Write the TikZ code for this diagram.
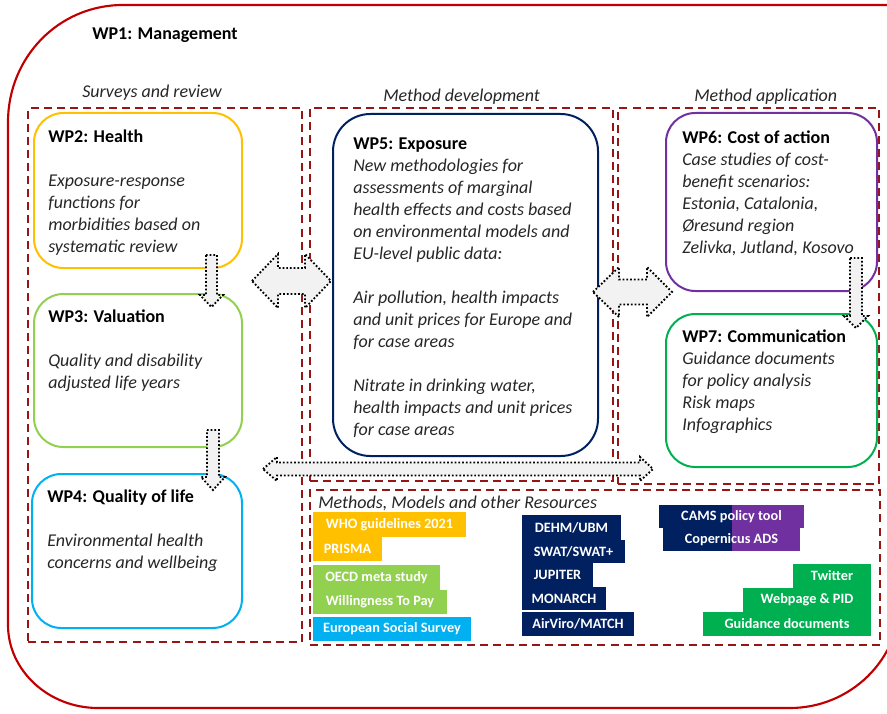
\documentclass[tikz,border=0pt]{standalone}
\usepackage{fontspec}
\setmainfont{Carlito}
\usetikzlibrary{fit}

\definecolor{outerred}{RGB}{192,0,0}
\definecolor{dashred}{RGB}{150,22,22}
\definecolor{wpyellow}{RGB}{255,192,0}
\definecolor{wpgreen}{RGB}{146,208,80}
\definecolor{wpblue}{RGB}{0,176,240}
\definecolor{wpnavy}{RGB}{0,32,96}
\definecolor{wppurple}{RGB}{112,48,160}
\definecolor{wpdkgreen}{RGB}{0,176,80}
\definecolor{arrowfill}{RGB}{242,242,242}
\definecolor{txt}{RGB}{38,38,38}

\tikzset{
  outerframe/.style={draw=outerred, line width=1.6pt},
  dashbox/.style={draw=dashred, line width=2pt, dash pattern=on 6pt off 3.8pt, inner sep=0pt},
  wpbox/.style={line width=1.5pt, rounded corners=22pt, inner sep=0pt},
  body/.style={anchor=north west, inner sep=0pt, align=left,
    font=\fontsize{13.5}{16.5}\selectfont\itshape, text=txt},
  heading/.style={anchor=base west, inner sep=0pt,
    font=\fontsize{13.5}{16.5}\selectfont\bfseries, text=black},
  section/.style={anchor=base west, inner sep=0pt,
    font=\fontsize{13.5}{16.5}\selectfont\itshape, text=txt},
  resbox/.style={inner sep=0pt},
  restext/.style={inner sep=0pt, text=white,
    font=\fontsize{10.7}{12}\selectfont\bfseries},
  blockarrow/.style={draw=black, fill=arrowfill, line width=1.4pt,
    dash pattern=on 1.3pt off 1.5pt}
}

\newcommand{\hd}[1]{\strut{\upshape\bfseries\color{black}#1}}

\begin{document}
\begin{tikzpicture}[x=0.75pt,y=-0.75pt]
\useasboundingbox (0,0) rectangle (887,713);

% project frame
\draw[outerframe] (8,625) -- (8,122)
  .. controls (8,58) and (58,5) .. (123,5) -- (900,5) -- (900,600)
  .. controls (900,660) and (850,708) .. (790,708) -- (98,708)
  .. controls (48,708) and (8,670) .. (8,625) -- cycle;
\node[heading] (wp1) at (92,40) {WP1: Management};

% work-stream groups
\node[dashbox, fit={(28,108) (302,642)}] (surveys) {};
\node[dashbox, fit={(310,108) (613,481)}] (devel) {};
\node[dashbox, fit={(618,108) (879,484)}] (appl) {};
\node[dashbox, fit={(310,490) (880,645)}] (resources) {};

\node[section] (surveyslbl) at (82,98) {Surveys and review};
\node[section] (devellbl) at (383,102) {Method development};
\node[section] (appllbl) at (694,102) {Method application};
\node[section] (reslbl) at (318,508) {Methods, Models and other Resources};

% work packages
\node[wpbox, draw=wpyellow, fit={(34,113) (242,268)}] (wp2) {};
\node[wpbox, draw=wpgreen, fit={(34,294) (242,447)}] (wp3) {};
\node[wpbox, draw=wpblue, fit={(32,474) (242,628)}] (wp4) {};
\node[wpbox, draw=wpnavy, rounded corners=28pt, fit={(333,114) (598,456)}] (wp5) {};
\node[wpbox, draw=wppurple, fit={(666,113) (877,291)}] (wp6) {};
\node[wpbox, draw=wpdkgreen, fit={(666,314) (877,467)}] (wp7) {};

\node[body] (wp2txt) at (48,126.6) {\hd{WP2: Health}\\[16.5pt]
  Exposure-response\\ functions for\\ morbidities based on\\ systematic review};
\node[body] (wp3txt) at (48,306.6) {\hd{WP3: Valuation}\\[16.5pt]
  Quality and disability\\ adjusted life years};
\node[body] (wp4txt) at (47,486.6) {\hd{WP4: Quality of life}\\[16.5pt]
  Environmental health\\ concerns and wellbeing};
\node[body] (wp5txt) at (353,133.6) {\hd{WP5: Exposure}\\
  New methodologies for\\ assessments of marginal\\
  health effects and costs based\\ on environmental models and\\
  EU-level public data:\\[16.5pt]
  Air pollution, health impacts\\ and unit prices for Europe and\\
  for case areas\\[16.5pt]
  Nitrate in drinking water,\\ health impacts and unit prices\\ for case areas};
\node[body] (wp6txt) at (682,127.6) {\hd{WP6: Cost of action}\\
  Case studies of cost-\\ benefit scenarios:\\ Estonia, Catalonia,\\
  Øresund region\\ Zelivka, Jutland, Kosovo};
\node[body] (wp7txt) at (682,326.6) {\hd{WP7: Communication}\\
  Guidance documents\\ for policy analysis\\ Risk maps\\ Infographics};

% resources
\node[resbox, fill=wpyellow, fit={(313,512) (466,537)},
  label={[restext]center:WHO guidelines 2021}] (who) {};
\node[resbox, fill=wpyellow, fit={(313,537) (382,561)},
  label={[restext]center:PRISMA}] (prisma) {};
\node[resbox, fill=wpgreen, fit={(313,565) (440,590)},
  label={[restext]center:OECD meta study}] (oecd) {};
\node[resbox, fill=wpgreen, fit={(313,590) (447,614)},
  label={[restext]center:Willingness To Pay}] (wtp) {};
\node[resbox, fill=wpblue, fit={(313,617) (471,641)},
  label={[restext]center:European Social Survey}] (ess) {};

\node[resbox, fill=wpnavy, fit={(522,515) (621,540)},
  label={[restext]center:DEHM/UBM}] (dehm) {};
\node[resbox, fill=wpnavy, fit={(522,540) (625,563)},
  label={[restext]center:SWAT/SWAT+}] (swat) {};
\node[resbox, fill=wpnavy, fit={(522,563) (593,587)},
  label={[restext]center:JUPITER}] (jupiter) {};
\node[resbox, fill=wpnavy, fit={(522,587) (606,610)},
  label={[restext]center:MONARCH}] (monarch) {};
\node[resbox, fill=wpnavy, fit={(522,612) (634,636)},
  label={[restext]center:AirViro/MATCH}] (airviro) {};

\node[resbox, fill=wpnavy, fit={(659,505) (804,528)},
  path picture={\fill[wppurple] (path picture bounding box.north) rectangle (path picture bounding box.south east);},
  label={[restext]center:CAMS policy tool}] (cams) {};
\node[resbox, fill=wpnavy, fit={(663,528) (800,551)},
  path picture={\fill[wppurple] (path picture bounding box.north) rectangle (path picture bounding box.south east);},
  label={[restext]center:Copernicus ADS}] (ads) {};

\node[resbox, fill=wpdkgreen, fit={(793,564) (871,588)},
  label={[restext]center:Twitter}] (twitter) {};
\node[resbox, fill=wpdkgreen, fit={(743,588) (871,612)},
  label={[restext]center:Webpage \& PID}] (webpage) {};
\node[resbox, fill=wpdkgreen, fit={(703,612) (871,636)},
  label={[restext]center:Guidance documents}] (guidance) {};

% flow between work packages
\draw[blockarrow] (206,255) -- (217,255) -- (217,295) -- (223,295) -- (211.5,307)
  -- (200,295) -- (206,295) -- cycle;
\draw[blockarrow] (207,430) -- (219,430) -- (219,477) -- (225,477) -- (213,490)
  -- (201,477) -- (207,477) -- cycle;
\draw[blockarrow] (850,258) -- (862,258) -- (862,316) -- (868,316) -- (856,328)
  -- (844,316) -- (850,316) -- cycle;
\draw[blockarrow] (252,281) -- (278,254) -- (278,268) -- (305,268) -- (305,254)
  -- (331,281) -- (305,308) -- (305,294) -- (278,294) -- (278,308) -- cycle;
\draw[blockarrow] (593,292) -- (619,267) -- (619,279.5) -- (647,279.5) -- (647,267)
  -- (672,292) -- (647,317) -- (647,304.5) -- (619,304.5) -- (619,317) -- cycle;
\draw[blockarrow] (263,469) -- (277,457) -- (277,462.5) -- (640,462.5) -- (640,457)
  -- (653,469) -- (640,481) -- (640,475.5) -- (277,475.5) -- (277,481) -- cycle;
\end{tikzpicture}
\end{document}
